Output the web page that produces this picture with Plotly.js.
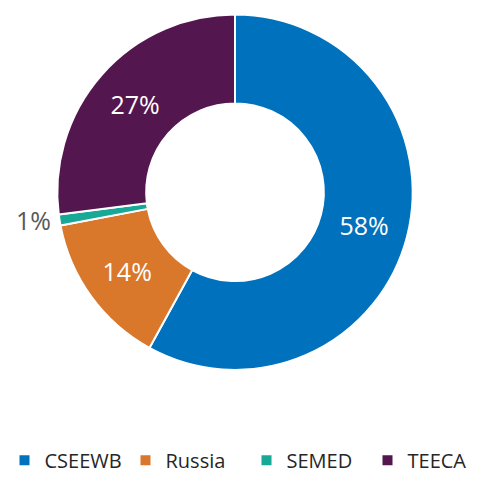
<!DOCTYPE html>
<html>
<head>
<meta charset="utf-8">
<script src="https://cdn.plot.ly/plotly-3.0.1.min.js"></script>
<style>html,body{margin:0;padding:0;background:#fff;}#chart{width:493px;height:480px;}</style>
</head>
<body>
<div id="chart"></div>
<script>
const labels = ["CSEEWB", "Russia", "SEMED", "TEECA"];
const values = [58, 14, 1, 27];
const colors = ["#0071BC", "#D9772B", "#17A898", "#53164F"];

const FONT = "'Open Sans', sans-serif";

const data = [{
  type: "pie",
  labels: labels,
  values: values,
  hole: 0.5,
  sort: false,
  direction: "clockwise",
  rotation: 0,
  marker: {colors: colors, line: {color: "#ffffff", width: 2}},
  texttemplate: "%{value}%",
  textinfo: "text",
  textposition: ["inside", "inside", "outside", "inside"],
  insidetextorientation: "horizontal",
  insidetextfont: {color: "#ffffff", size: 25, family: FONT},
  outsidetextfont: {color: "#595959", size: 25, family: FONT},
  hoverinfo: "none",
  domain: {x: [0, 470/493], y: [1 - 381/480, 1 - 15/480]},
  automargin: false
}];

const layout = {
  width: 493, height: 480,
  margin: {l: 0, r: 0, t: 0, b: 0},
  paper_bgcolor: "#ffffff",
  showlegend: true,
  font: {family: FONT, color: "#404040"},
  legend: {
    orientation: "h",
    x: 0.5, xanchor: "center",
    y: 6/480, yanchor: "middle",
    entrywidth: 76,
    font: {size: 20, color: "#262626", family: FONT}
  }
};

Plotly.newPlot("chart", data, layout, {displayModeBar: false, staticPlot: true});
</script>
</body>
</html>
